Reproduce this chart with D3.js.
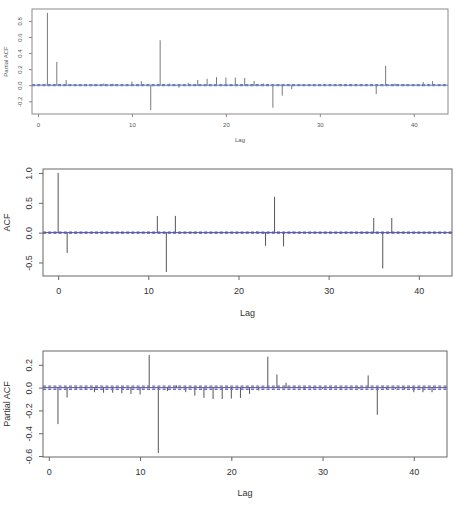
<!DOCTYPE html>
<html>
<head>
<meta charset="utf-8">
<script src="https://cdn.jsdelivr.net/npm/d3@7"></script>
<style>
  html, body { margin: 0; padding: 0; background: #fff; }
  svg { display: block; font-family: "Liberation Sans", Arial, sans-serif; }
</style>
</head>
<body>
<div id="chart"></div>
<script>
// Top panel: partial ACF, lags 1..42
const pacfTop = [
  0.90, 0.29, 0.065, 0.012, 0.008, 0.010, 0.022, 0.018, 0.012, 0.045,
  0.050, -0.31, 0.56, 0.020, -0.030, 0.030, 0.065, 0.080, 0.100, 0.095,
  0.095, 0.090, 0.053, 0.020, -0.28, -0.13, -0.05, 0.005, 0.004, 0.003,
  0.004, 0.005, 0.003, 0.004, 0.006, -0.11, 0.24, 0.020, 0.008, 0.015,
  0.040, 0.050
];
const climTop = 0.006;

// Middle panel: ACF, lags 0..42
const acfMid = [
  1.0, -0.34, 0.015, 0.012, 0.005, 0.004, 0.005, 0.004, 0.006, 0.008,
  0.012, 0.28, -0.66, 0.28, 0.012, -0.010, 0.006, 0.005, 0.004, 0.006,
  0.008, 0.012, 0.020, -0.22, 0.60, -0.23, 0.015, 0.008, 0.005, 0.004,
  0.005, 0.006, 0.006, 0.008, 0.010, 0.245, -0.60, 0.245, 0.010, 0.006,
  0.005, 0.004, 0.004
];
const climMid = 0.008;

// Bottom panel: partial ACF, lags 1..42
const pacfBot = [
  -0.32, -0.087, -0.010, -0.012, -0.040, -0.045, -0.045, -0.050, -0.055, -0.060,
  0.287, -0.574, -0.030, 0.020, -0.040, -0.070, -0.090, -0.100, -0.100, -0.096,
  -0.090, -0.055, -0.025, 0.272, 0.115, 0.043, 0.010, -0.010, -0.008, -0.010,
  -0.008, -0.010, -0.008, -0.010, 0.107, -0.238, -0.012, -0.010, -0.012, -0.040,
  -0.040, -0.040
];
const climBot = 0.014;

const xTicks = [0, 10, 20, 30, 40];
const yTicksTop = [-0.2, 0.0, 0.2, 0.4, 0.6, 0.8];
const yTicksMid = [-0.5, 0.0, 0.5, 1.0];
const yTicksBot = [-0.6, -0.4, -0.2, 0.0, 0.2];

const W = 455, H = 508;

const svg = d3.select('#chart').append('svg')
  .attr('width', W)
  .attr('height', H);

// R-style range: data extent widened by 4% each side
function rRange(vals) {
  let [lo, hi] = d3.extent(vals);
  let pad = (hi - lo) * 0.04;
  return [lo - pad, hi + pad];
}

function drawPanel(p) {
  let lags = p.values.map((d, i) => i + p.firstLag);
  let x = d3.scaleLinear().domain(rRange(lags)).range([p.left, p.right]);
  let y = d3.scaleLinear()
    .domain(rRange(p.values.concat([-p.clim, p.clim])))
    .range([p.bottom, p.top]);

  let g = svg.append('g');

  // spikes
  g.selectAll('.spike')
      .data(p.values)
    .enter().append('line')
      .attr('x1', (d, i) => x(lags[i]))
      .attr('x2', (d, i) => x(lags[i]))
      .attr('y1', y(0))
      .attr('y2', d => y(d))
      .attr('stroke', p.spike)
      .attr('stroke-width', 1);

  // zero line
  g.append('line')
    .attr('x1', p.left).attr('x2', p.right)
    .attr('y1', y(0)).attr('y2', y(0))
    .attr('stroke', p.spike)
    .attr('stroke-width', 1);

  // confidence bounds
  for (let c of [-p.clim, p.clim]) {
    g.append('line')
      .attr('x1', p.left).attr('x2', p.right)
      .attr('y1', y(c)).attr('y2', y(c))
      .attr('stroke', p.band)
      .attr('stroke-width', 1.3)
      .attr('stroke-dasharray', '3,2.2');
  }

  // box
  g.append('rect')
    .attr('x', p.left).attr('y', p.top)
    .attr('width', p.right - p.left)
    .attr('height', p.bottom - p.top)
    .attr('fill', 'none')
    .attr('stroke', p.frame)
    .attr('stroke-width', 1);

  // x axis
  let xa = g.append('g')
    .attr('transform', `translate(0,${p.bottom})`)
    .call(d3.axisBottom(x).tickValues(xTicks).tickSize(p.tick).tickPadding(p.pad).tickFormat(d3.format('d')));
  xa.select('.domain').remove();
  xa.selectAll('line').attr('stroke', p.frame);
  xa.selectAll('text')
    .attr('fill', p.text)
    .attr('font-size', p.font)
    .attr('font-family', 'Liberation Sans, Arial, sans-serif');

  // y axis, labels rotated like R
  let ya = g.append('g')
    .attr('transform', `translate(${p.left},0)`)
    .call(d3.axisLeft(y).tickValues(p.yTicks).tickSize(p.tick).tickFormat(d3.format('.1f')));
  ya.select('.domain').remove();
  ya.selectAll('line').attr('stroke', p.frame);
  ya.selectAll('text')
    .attr('fill', p.text)
    .attr('font-size', p.font)
    .attr('font-family', 'Liberation Sans, Arial, sans-serif')
    .attr('text-anchor', 'middle')
    .attr('dy', '0.35em')
    .attr('x', -p.ylabOff)
    .attr('transform', `rotate(-90,${-p.ylabOff},0)`)
    .text(d => d3.format('.1f')(d).replace('\u2212', '-'));

  // titles
  g.append('text')
    .text('Lag')
    .attr('x', (p.left + p.right) / 2)
    .attr('y', p.lagY)
    .attr('text-anchor', 'middle')
    .attr('font-size', p.font)
    .attr('fill', p.text);

  g.append('text')
    .text(p.ylab)
    .attr('transform', `translate(${p.ytitleX},${(p.top + p.bottom) / 2}) rotate(-90)`)
    .attr('text-anchor', 'middle')
    .attr('font-size', p.font)
    .attr('fill', p.text);
}

drawPanel({
  values: pacfTop, firstLag: 1, clim: climTop, yTicks: yTicksTop, ylab: 'Partial ACF',
  left: 32, top: 9, right: 448, bottom: 114,
  font: 6, tick: 3, pad: 6, ylabOff: 12, lagY: 142, ytitleX: 8,
  spike: '#7a7a7a', frame: '#8a8a8a', text: '#555', band: '#6680d0'
});

drawPanel({
  values: acfMid, firstLag: 0, clim: climMid, yTicks: yTicksMid, ylab: 'ACF',
  left: 43, top: 169, right: 452, bottom: 276,
  font: 9, tick: 4, pad: 8, ylabOff: 14, lagY: 316, ytitleX: 10,
  spike: '#555', frame: '#666', text: '#333', band: '#5a55c8'
});

drawPanel({
  values: pacfBot, firstLag: 1, clim: climBot, yTicks: yTicksBot, ylab: 'Partial ACF',
  left: 43, top: 351, right: 447, bottom: 457,
  font: 9, tick: 4, pad: 8, ylabOff: 14, lagY: 496, ytitleX: 10,
  spike: '#555', frame: '#666', text: '#333', band: '#6a6ad8'
});
</script>
</body>
</html>
